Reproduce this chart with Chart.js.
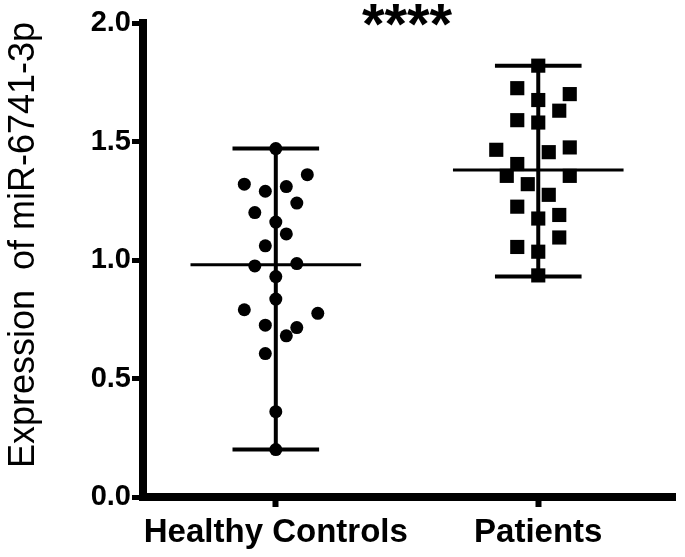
<!DOCTYPE html>
<html>
<head>
<meta charset="utf-8">
<script src="https://cdn.jsdelivr.net/npm/chart.js@4"></script>
<style>
html, body { margin: 0; padding: 0; background: #fff; }
#wrap { width: 685px; height: 557px; }
</style>
</head>
<body>
<div id="wrap"><canvas id="c"></canvas></div>
<script>
// values
const categories = ['Healthy Controls', 'Patients'];
const healthyValues = [1.47, 1.36, 1.32, 1.31, 1.29, 1.24, 1.20, 1.16, 1.11, 1.06, 0.975, 0.985,
                       0.93, 0.835, 0.79, 0.775, 0.725, 0.715, 0.68, 0.605, 0.36, 0.20];
const healthyJitter = [0, 0.12, -0.12, 0.04, -0.04, 0.08, -0.08, 0, 0.04, -0.04, -0.08, 0.08,
                       0, 0, -0.12, 0.16, -0.04, 0.08, 0.04, -0.04, 0, 0];
const patientValues = [1.82, 1.725, 1.70, 1.675, 1.63, 1.59, 1.58, 1.465, 1.475, 1.455, 1.405,
                       1.355, 1.355, 1.32, 1.275, 1.225, 1.19, 1.175, 1.095, 1.055, 1.035, 0.935];
const patientJitter = [0, -0.08, 0.12, 0, 0.08, -0.08, 0, -0.16, 0.12, 0.04, -0.08, -0.12,
                       0.12, -0.04, 0.04, -0.08, 0.08, 0, 0.08, -0.08, 0, 0];
const groupMeans = [0.98, 1.38];
const groupLows = [0.20, 0.93];
const groupHighs = [1.47, 1.82];
const yTicks = [0, 0.5, 1.0, 1.5, 2.0];
const sigLabel = '****';
const yTitle = 'Expression  of miR-6741-3p';

const FONT = "'Liberation Sans', Arial, sans-serif";

function points(values, jitter, idx) {
    return values.map((v, i) => ({ x: idx + jitter[i], y: v }));
}

function seg(x1, y1, x2, y2, w) {
    return {
        data: [{ x: x1, y: y1 }, { x: x2, y: y2 }],
        showLine: true,
        borderColor: '#000',
        borderWidth: w,
        borderCapStyle: 'butt',
        pointRadius: 0,
        pointHoverRadius: 0,
        order: 1
    };
}

// error bars (range) + mean line for each group
const barSets = [];
categories.forEach((c, i) => {
    barSets.push(seg(i, groupLows[i], i, groupHighs[i], 4));
    barSets.push(seg(i - 0.165, groupHighs[i], i + 0.165, groupHighs[i], 4));
    barSets.push(seg(i - 0.165, groupLows[i], i + 0.165, groupLows[i], 4));
    barSets.push(seg(i - 0.325, groupMeans[i], i + 0.325, groupMeans[i], 3));
});

const textPlugin = {
    id: 'texts',
    afterDraw(chart) {
        const ctx = chart.ctx;
        const xs = chart.scales.x;
        const area = chart.chartArea;
        ctx.save();
        ctx.fillStyle = '#000';
        ctx.font = 'bold 58px ' + FONT;
        ctx.textAlign = 'center';
        ctx.textBaseline = 'alphabetic';
        ctx.fillText(sigLabel, xs.getPixelForValue(0.5), 44);

        ctx.font = '36px ' + FONT;
        ctx.translate(34, (area.top + area.bottom) / 2 - 15);
        ctx.rotate(-Math.PI / 2);
        ctx.fillText(yTitle, 0, 0);
        ctx.restore();
    }
};

new Chart(document.getElementById('c'), {
    type: 'scatter',
    data: {
        datasets: [
            {
                data: points(healthyValues, healthyJitter, 0),
                pointStyle: 'circle',
                pointRadius: 6.5,
                pointBorderWidth: 0,
                backgroundColor: '#000',
                borderColor: '#000',
                order: 0
            },
            {
                data: points(patientValues, patientJitter, 1),
                pointStyle: 'rect',
                pointRadius: 10,
                pointBorderWidth: 0,
                backgroundColor: '#000',
                borderColor: '#000',
                order: 0
            }
        ].concat(barSets)
    },
    options: {
        responsive: true,
        maintainAspectRatio: false,
        animation: false,
        layout: { padding: { top: 23, right: 5, left: 0, bottom: 0 } },
        plugins: {
            legend: { display: false },
            tooltip: { enabled: false }
        },
        scales: {
            x: {
                type: 'linear',
                min: -0.506,
                max: 1.521,
                afterBuildTicks: (s) => { s.ticks = categories.map((c, i) => ({ value: i })); },
                afterFit: (s) => { s.height = 60; },
                ticks: {
                    color: '#000',
                    padding: 6,
                    maxRotation: 0,
                    font: { family: FONT, size: 33, weight: 'bold' },
                    callback: (v, i) => categories[i]
                },
                grid: { drawOnChartArea: false, tickLength: 10, tickWidth: 6, tickColor: '#000' },
                border: { color: '#000', width: 8 }
            },
            y: {
                min: 0,
                max: 2,
                afterBuildTicks: (s) => { s.ticks = yTicks.map(v => ({ value: v })); },
                afterFit: (s) => { s.width = 143; },
                ticks: {
                    color: '#000',
                    padding: 1,
                    font: { family: FONT, size: 29, weight: 'bold' },
                    callback: (v) => v.toFixed(1)
                },
                grid: { drawOnChartArea: false, tickLength: 11, tickWidth: 5, tickColor: '#000' },
                border: { color: '#000', width: 8 }
            }
        }
    },
    plugins: [textPlugin]
});
</script>
</body>
</html>
